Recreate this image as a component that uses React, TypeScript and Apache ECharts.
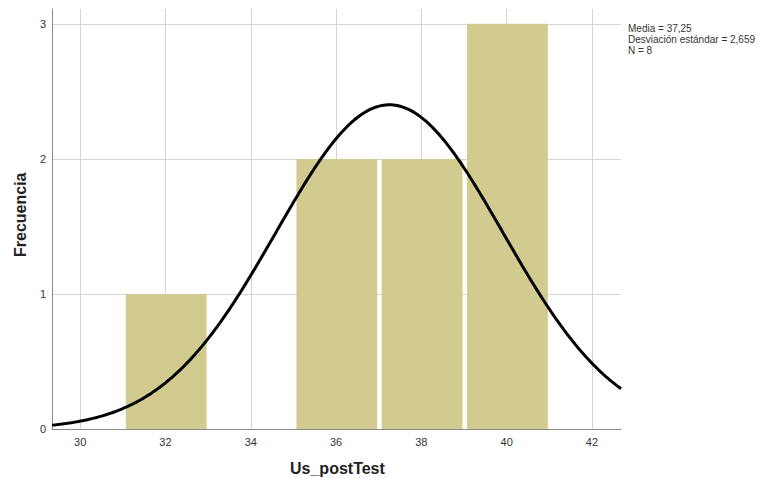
import React, { useEffect, useRef } from "react";
import * as echarts from "echarts";

const binStarts = [31, 35, 37, 39];
const binEnds = [33, 37, 39, 41];
const frequencies = [1, 2, 2, 3];
const xTicks = [30, 32, 34, 36, 38, 40, 42];
const yTicks = [0, 1, 2, 3];
const mean = 37.25;
const stdDev = 2.659;
const n = 8;
const binWidth = 2;
const statLines = ["Media = 37,25", "Desviación estándar = 2,659", "N = 8"];

const X_MIN = 29.34;
const X_MAX = 42.68;

function normalCurve(): number[][] {
  const pts: number[][] = [];
  const steps = 300;
  for (let i = 0; i <= steps; i++) {
    const x = X_MIN + ((X_MAX - X_MIN) * i) / steps;
    const z = (x - mean) / stdDev;
    const y = (n * binWidth * Math.exp(-0.5 * z * z)) / (stdDev * Math.sqrt(2 * Math.PI));
    pts.push([x, y]);
  }
  return pts;
}

export default function App() {
  const ref = useRef<HTMLDivElement>(null);
  useEffect(() => {
    if (!ref.current) return;
    const chart = echarts.init(ref.current, undefined, { renderer: "svg" });
    const font = "'Liberation Sans', Arial, sans-serif";
    const barData = binStarts.map((s, i) => [s, binEnds[i], frequencies[i]]);
    chart.setOption({
      animation: false,
      backgroundColor: "#ffffff",
      grid: { left: 52, right: 145, top: 9, bottom: 49, containLabel: false },
      xAxis: {
        type: "value",
        min: X_MIN,
        max: X_MAX,
        customValues: xTicks,
        axisLine: { show: true, lineStyle: { color: "#8a8a8a", width: 1 } },
        axisTick: { show: false, customValues: xTicks },
        axisLabel: {
          customValues: xTicks,
          color: "#333333",
          fontSize: 11,
          fontFamily: font,
          margin: 7,
          showMinLabel: true,
          showMaxLabel: true,
        },
        splitLine: { show: true, lineStyle: { color: "#d4d4d4", width: 1 } },
      },
      yAxis: {
        type: "value",
        min: 0,
        max: 3.11,
        customValues: yTicks,
        axisLine: { show: true, lineStyle: { color: "#8a8a8a", width: 1 } },
        axisTick: { show: false, customValues: yTicks },
        axisLabel: {
          customValues: yTicks,
          color: "#333333",
          fontSize: 11,
          fontFamily: font,
          margin: 6,
        },
        splitLine: { show: true, lineStyle: { color: "#d4d4d4", width: 1 } },
      },
      series: [
        {
          type: "custom",
          data: barData,
          encode: { x: [0, 1], y: 2 },
          renderItem: (params: any, api: any) => {
            const p0 = api.coord([api.value(0), api.value(2)]);
            const p1 = api.coord([api.value(1), 0]);
            const insetL = 3;
            const insetR = 1.5;
            return {
              type: "rect",
              shape: {
                x: p0[0] + insetL,
                y: p0[1],
                width: p1[0] - p0[0] - insetL - insetR,
                height: p1[1] - p0[1],
              },
              style: { fill: "#d1cb8f" },
            };
          },
          z: 2,
        },
        {
          type: "line",
          data: normalCurve(),
          showSymbol: false,
          symbol: "none",
          smooth: false,
          lineStyle: { color: "#000000", width: 3 },
          z: 3,
        },
      ],
      graphic: [
        {
          type: "text",
          left: 290,
          top: 460,
          style: {
            text: "Us_postTest",
            fontSize: 16,
            fontWeight: "bold",
            fontFamily: font,
            fill: "#222222",
          },
        },
        {
          type: "text",
          x: 12,
          y: 257,
          rotation: Math.PI / 2,
          style: {
            text: "Frecuencia",
            fontSize: 16,
            fontWeight: "bold",
            fontFamily: font,
            fill: "#222222",
          },
        },
        ...statLines.map((t, i) => ({
          type: "text",
          x: 628,
          y: 23 + i * 11,
          style: {
            text: t,
            fontSize: 10,
            fontFamily: font,
            fill: "#333333",
          },
        })),
      ],
    });
    return () => chart.dispose();
  }, []);
  return <div ref={ref} style={{ width: 766, height: 478, position: "fixed", left: 0, top: 0 }} />;
}
